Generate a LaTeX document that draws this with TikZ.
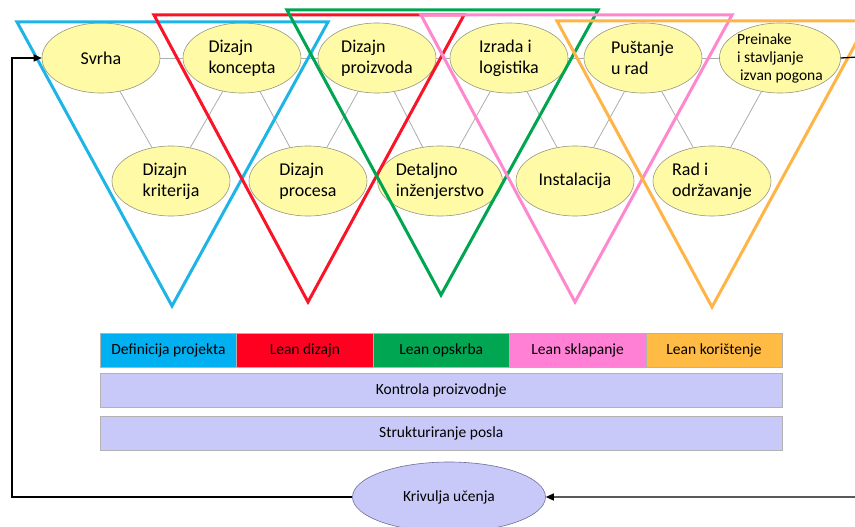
\documentclass[tikz,border=0pt]{standalone}
\usepackage{fontspec}
\setmainfont{Carlito}
\usetikzlibrary{shapes.geometric,arrows.meta}
\definecolor{elfill}{RGB}{255,250,165}
\definecolor{elline}{RGB}{150,150,130}
\definecolor{triblue}{RGB}{30,180,230}
\definecolor{trired}{RGB}{250,20,40}
\definecolor{trigreen}{RGB}{0,165,80}
\definecolor{tripink}{RGB}{255,135,205}
\definecolor{triorange}{RGB}{255,180,70}
\definecolor{segblue}{RGB}{0,176,240}
\definecolor{segred}{RGB}{255,0,32}
\definecolor{seggreen}{RGB}{0,166,81}
\definecolor{segpink}{RGB}{255,128,213}
\definecolor{segorange}{RGB}{255,187,68}
\definecolor{lav}{RGB}{201,201,249}
\definecolor{lavline}{RGB}{110,110,150}
\begin{document}
\begin{tikzpicture}[x=1pt,y=-1pt,
  el/.style={ellipse,draw=elline,line width=0.6pt,fill=elfill,minimum width=118pt,minimum height=70pt,inner sep=0pt,align=left,font=\fontsize{18}{21}\selectfont},
  link/.style={draw=gray!65,line width=0.8pt},
  tri/.style={line width=3pt,line join=miter},
  seg/.style={draw=gray!60,line width=0.5pt,minimum width=136.4pt,minimum height=34pt,inner sep=0pt,font=\fontsize{15.5}{18}\selectfont,anchor=north west},
  bar/.style={draw=gray!60,line width=0.5pt,fill=lav,minimum width=682pt,minimum height=34pt,inner sep=0pt,font=\fontsize{15.5}{18}\selectfont,anchor=north west},
  loopline/.style={draw=black,line width=1.3pt},
  tip/.style={-{Triangle[length=8pt,width=7pt]}}
]
\useasboundingbox (0,0) rectangle (855,527);
\clip (0,0) rectangle (855,527);

% top row
\node[el] (svrha) at (101,58) {Svrha};
\node[el] (konc) at (242,58) {Dizajn\\koncepta};
\node[el] (proiz) at (377,58) {Dizajn\\proizvoda};
\node[el] (izr) at (509,58) {Izrada i\\logistika};
\node[el] (pust) at (643,58) {\raisebox{4pt}{\parbox{64pt}{Puštanje\\u rad}}};
\node[el,font=\fontsize{15.5}{18}\selectfont] (prein) at (780,58) {Preinake\\i stavljanje\\\hspace{3pt}izvan pogona};
% bottom row
\node[el] (krit) at (171,181) {Dizajn\\kriterija};
\node[el] (proc) at (308,181) {Dizajn\\procesa};
\node[el] (det) at (440,181) {Detaljno\\inženjerstvo};
\node[el] (inst) at (575,181) {Instalacija};
\node[el] (rad) at (712,181) {Rad i\\održavanje};

% gray links
\draw[link] (svrha) -- (konc);
\draw[link] (konc) -- (proiz);
\draw[link] (proiz) -- (izr);
\draw[link] (izr) -- (pust);
\draw[link] (pust) -- (prein);
\draw[link] (svrha) -- (krit);
\draw[link] (krit) -- (konc);
\draw[link] (konc) -- (proc);
\draw[link] (proc) -- (proiz);
\draw[link] (proiz) -- (det);
\draw[link] (det) -- (izr);
\draw[link] (izr) -- (inst);
\draw[link] (inst) -- (pust);
\draw[link] (pust) -- (rad);
\draw[link] (rad) -- (prein);

% triangles
\draw[tri,draw=triblue] (17,22) -- (328,22) -- (172,306) -- cycle;
\draw[tri,draw=trired] (154,15) -- (464,15) -- (308,302) -- cycle;
\draw[tri,draw=trigreen] (287,10) -- (598,10) -- (441,295) -- cycle;
\draw[tri,draw=tripink] (421,15) -- (732,15) -- (575,302) -- cycle;
\draw[tri,draw=triorange] (557,21) -- (868,21) -- (712,307) -- cycle;

% phase bar
\node[seg,fill=segblue] (s1) at (100,333) {Definicija projekta};
\node[seg,fill=segred] (s2) at (236.4,333) {Lean dizajn};
\node[seg,fill=seggreen] (s3) at (372.8,333) {Lean opskrba};
\node[seg,fill=segpink] (s4) at (509.2,333) {Lean sklapanje};
\node[seg,fill=segorange] (s5) at (645.6,333) {Lean korištenje};
\node[bar] (kp) at (100,373) {Kontrola proizvodnje};
\node[bar] (sp) at (100,416) {Strukturiranje posla};

% learning curve loop
\node[ellipse,draw=lavline,line width=0.6pt,fill=lav,minimum width=193pt,minimum height=70pt,inner sep=0pt,font=\fontsize{15.5}{18}\selectfont] (kriv) at (449,497) {Krivulja učenja};
\coordinate (r1) at (858,57);
\coordinate (r2) at (858,497);
\coordinate (l1) at (12,497);
\coordinate (l2) at (12,58);
\draw[loopline,tip] (prein.east) -- (r1) -- (r2) -- (kriv.east);
\draw[loopline,tip] (kriv.west) -- (l1) -- (l2) -- (svrha.west);
\end{tikzpicture}
\end{document}
